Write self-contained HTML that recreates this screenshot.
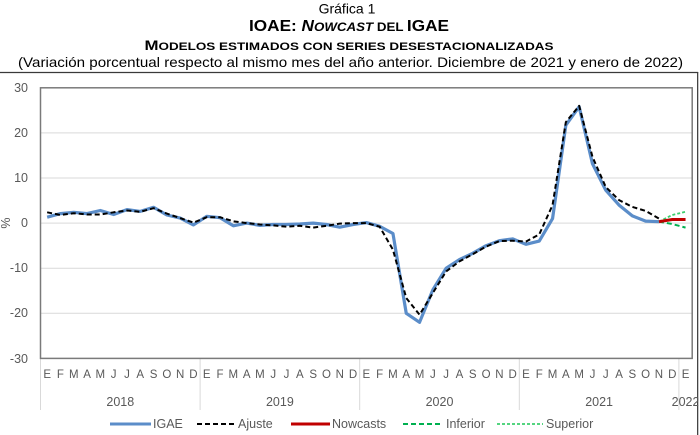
<!DOCTYPE html>
<html><head><meta charset="utf-8">
<style>
html,body{margin:0;padding:0;background:#fff;}
svg{display:block;}
</style></head>
<body>
<svg width="700" height="435" viewBox="0 0 700 435" xmlns="http://www.w3.org/2000/svg" font-family="Liberation Sans, sans-serif">
<!-- titles -->
<text x="347" y="13.5" text-anchor="middle" font-size="14" fill="#000">Gráfica 1</text>
<text x="349" y="31" text-anchor="middle" font-weight="bold" fill="#000" textLength="200" lengthAdjust="spacingAndGlyphs"><tspan font-size="15.5">IOAE: </tspan><tspan font-size="15.5" font-style="italic">N</tspan><tspan font-size="12" font-style="italic">OWCAST</tspan><tspan font-size="12"> DEL </tspan><tspan font-size="15.5">IGAE</tspan></text>
<text x="349" y="50" text-anchor="middle" font-weight="bold" fill="#000" textLength="409" lengthAdjust="spacingAndGlyphs"><tspan font-size="13.5">M</tspan><tspan font-size="10.8">ODELOS ESTIMADOS CON SERIES DESESTACIONALIZADAS</tspan></text>
<text x="350.5" y="67" text-anchor="middle" font-size="14" fill="#000" textLength="665" lengthAdjust="spacingAndGlyphs">(Variación porcentual respecto al mismo mes del año anterior. Diciembre de 2021 y enero de 2022)</text>

<!-- outer frame -->
<line x1="0" y1="72.5" x2="698" y2="72.5" stroke="#3a3a3a" stroke-width="1.3"/>
<line x1="697.7" y1="72" x2="697.7" y2="435" stroke="#3a3a3a" stroke-width="1.3"/>

<!-- gridlines -->
<g stroke="#d9d9d9" stroke-width="1">
<line x1="40.5" y1="132.9" x2="692" y2="132.9"/>
<line x1="40.5" y1="178.0" x2="692" y2="178.0"/>
<line x1="40.5" y1="223.1" x2="692" y2="223.1"/>
<line x1="40.5" y1="268.2" x2="692" y2="268.2"/>
<line x1="40.5" y1="313.3" x2="692" y2="313.3"/>
</g>
<!-- category separators -->
<g stroke="#d9d9d9" stroke-width="1">
<line x1="40.5" y1="358" x2="40.5" y2="410"/>
<line x1="200.1" y1="358" x2="200.1" y2="410"/>
<line x1="359.7" y1="358" x2="359.7" y2="410"/>
<line x1="519.3" y1="358" x2="519.3" y2="410"/>
<line x1="678.9" y1="358" x2="678.9" y2="410"/>
</g>
<!-- plot border -->
<rect x="40.5" y="87.8" width="651.7" height="270.6" fill="none" stroke="#7a7a7a" stroke-width="1.5"/>

<!-- y labels -->
<g font-size="12.5" fill="#595959" text-anchor="end">
<text x="28" y="92">30</text>
<text x="28" y="137">20</text>
<text x="28" y="182">10</text>
<text x="28" y="227">0</text>
<text x="28" y="272">-10</text>
<text x="28" y="317">-20</text>
<text x="28" y="363">-30</text>
</g>
<text x="0" y="0" font-size="12.5" fill="#595959" text-anchor="middle" transform="translate(10,223) rotate(-90)">%</text>

<!-- month labels -->
<g font-size="11.5" fill="#595959" text-anchor="middle">
<text x="47.15" y="378">E</text><text x="60.45" y="378">F</text><text x="73.75" y="378">M</text><text x="87.05" y="378">A</text><text x="100.35" y="378">M</text><text x="113.65" y="378">J</text><text x="126.95" y="378">J</text><text x="140.25" y="378">A</text><text x="153.55" y="378">S</text><text x="166.85" y="378">O</text><text x="180.15" y="378">N</text><text x="193.45" y="378">D</text>
<text x="206.75" y="378">E</text><text x="220.05" y="378">F</text><text x="233.35" y="378">M</text><text x="246.65" y="378">A</text><text x="259.95" y="378">M</text><text x="273.25" y="378">J</text><text x="286.55" y="378">J</text><text x="299.85" y="378">A</text><text x="313.15" y="378">S</text><text x="326.45" y="378">O</text><text x="339.75" y="378">N</text><text x="353.05" y="378">D</text>
<text x="366.35" y="378">E</text><text x="379.65" y="378">F</text><text x="392.95" y="378">M</text><text x="406.25" y="378">A</text><text x="419.55" y="378">M</text><text x="432.85" y="378">J</text><text x="446.15" y="378">J</text><text x="459.45" y="378">A</text><text x="472.75" y="378">S</text><text x="486.05" y="378">O</text><text x="499.35" y="378">N</text><text x="512.65" y="378">D</text>
<text x="525.95" y="378">E</text><text x="539.25" y="378">F</text><text x="552.55" y="378">M</text><text x="565.85" y="378">A</text><text x="579.15" y="378">M</text><text x="592.45" y="378">J</text><text x="605.75" y="378">J</text><text x="619.05" y="378">A</text><text x="632.35" y="378">S</text><text x="645.65" y="378">O</text><text x="658.95" y="378">N</text><text x="672.25" y="378">D</text>
<text x="685.55" y="378">E</text>
</g>
<!-- year labels -->
<g font-size="12.5" fill="#595959" text-anchor="middle">
<text x="120.3" y="406">2018</text>
<text x="279.9" y="406">2019</text>
<text x="439.5" y="406">2020</text>
<text x="599.1" y="406">2021</text>
<text x="685.55" y="406">2022</text>
</g>
<!-- mask right of frame -->
<rect x="698.4" y="73" width="2" height="362" fill="#fff"/>

<!-- series -->
<polyline fill="none" stroke="#5b8dc9" stroke-width="3.2" stroke-linejoin="round" points="47.15,217.2 60.45,213.6 73.75,212.3 87.05,213.6 100.35,210.5 113.65,214.5 126.95,209.6 140.25,211.4 153.55,207.3 166.85,215.0 180.15,218.1 193.45,224.9 206.75,216.3 220.05,217.7 233.35,225.8 246.65,223.1 259.95,225.4 273.25,224.5 286.55,224.5 299.85,224.0 313.15,223.1 326.45,224.5 339.75,227.2 353.05,224.5 366.35,222.6 379.65,226.3 392.95,233.5 406.25,313.3 419.55,322.3 432.85,289.8 446.15,268.2 459.45,259.6 472.75,253.3 486.05,245.7 499.35,240.7 512.65,238.9 525.95,244.3 539.25,241.1 552.55,218.6 565.85,125.2 579.15,106.7 592.45,163.6 605.75,190.2 619.05,205.1 632.35,215.9 645.65,221.1 658.95,221.7"/>
<polyline fill="none" stroke="#000" stroke-width="2" stroke-dasharray="5,3" stroke-linejoin="round" points="47.15,212.3 60.45,215.0 73.75,213.2 87.05,214.5 100.35,214.5 113.65,212.3 126.95,210.5 140.25,211.8 153.55,208.2 166.85,213.6 180.15,218.1 193.45,222.6 206.75,217.2 220.05,217.2 233.35,221.3 246.65,223.1 259.95,224.5 273.25,225.4 286.55,226.7 299.85,225.8 313.15,227.6 326.45,225.8 339.75,223.6 353.05,223.1 366.35,223.1 379.65,226.7 392.95,249.7 406.25,298.0 419.55,314.7 432.85,293.0 446.15,271.4 459.45,261.4 472.75,254.2 486.05,246.6 499.35,241.1 512.65,240.7 525.95,241.6 539.25,234.4 552.55,205.1 565.85,122.1 579.15,105.8 592.45,156.8 605.75,187.0 619.05,200.1 632.35,206.9 645.65,210.9 658.95,218.6"/>
<polyline fill="none" stroke="#00b050" stroke-width="2" stroke-dasharray="5,3" points="658.95,221.7 672.25,224.0 685.55,227.6"/>
<polyline fill="none" stroke="#3ccf6e" stroke-width="1.8" stroke-dasharray="3,2" points="658.95,221.7 672.25,215.0 685.55,211.8"/>
<polyline fill="none" stroke="#c00000" stroke-width="3" points="658.95,221.7 672.25,219.5 685.55,219.5"/>

<!-- legend -->
<g font-size="12.5" fill="#595959">
<line x1="110" y1="424" x2="151" y2="424" stroke="#5b8dc9" stroke-width="3"/>
<text x="153" y="428">IGAE</text>
<line x1="197" y1="424" x2="235" y2="424" stroke="#000" stroke-width="2" stroke-dasharray="5,3"/>
<text x="238" y="428">Ajuste</text>
<line x1="291" y1="424" x2="330" y2="424" stroke="#c00000" stroke-width="3"/>
<text x="332" y="428">Nowcasts</text>
<line x1="403" y1="424" x2="443" y2="424" stroke="#00b050" stroke-width="2" stroke-dasharray="5,3"/>
<text x="446" y="428">Inferior</text>
<line x1="497" y1="424" x2="543" y2="424" stroke="#3ccf6e" stroke-width="1.8" stroke-dasharray="3,2"/>
<text x="546" y="428">Superior</text>
</g>
</svg>
</body></html>
